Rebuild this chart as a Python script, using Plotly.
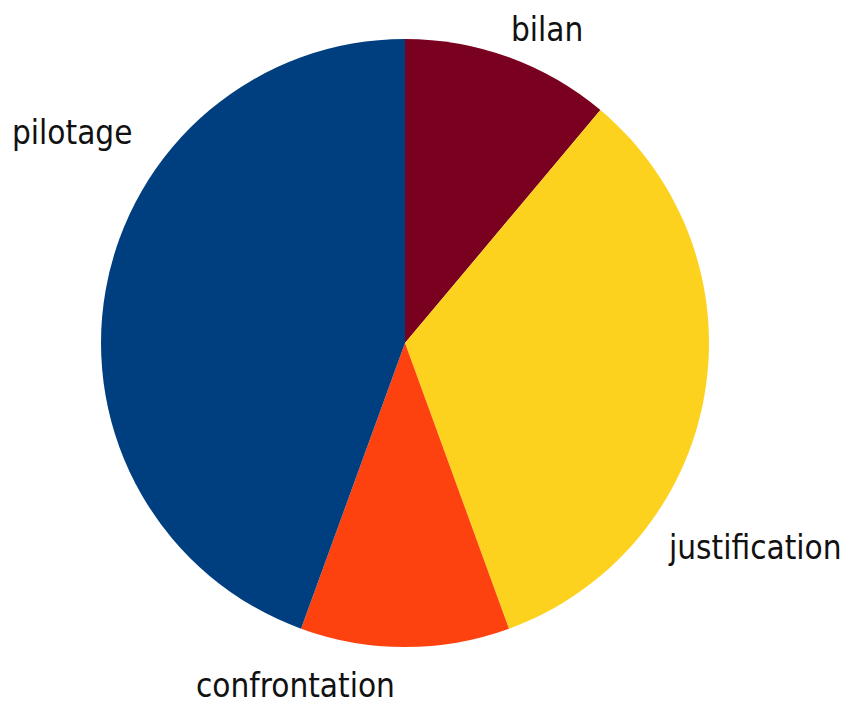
import plotly.graph_objects as go

labels = ["bilan", "justification", "confrontation", "pilotage"]
values = [10, 30, 10, 40]
colors = ["#7a0020", "#fdd21f", "#fe420f", "#003f7f"]

# label anchor positions (paper coords)
label_x = [0.633, 0.878, 0.338, 0.075]
label_y = [0.970, 0.236, 0.040, 0.824]

W, H = 851, 706
cx, cy, r = 397, 335, 304

fig = go.Figure(go.Pie(
    labels=labels,
    values=values,
    sort=False,
    direction="clockwise",
    rotation=0,
    marker=dict(colors=colors, line=dict(width=0)),
    textinfo="none",
    hoverinfo="label+percent",
    domain=dict(x=[(cx - r) / W, (cx + r) / W], y=[(H - cy - r) / H, (H - cy + r) / H]),
    showlegend=False,
))

for t, x, y in zip(labels, label_x, label_y):
    fig.add_annotation(text=t, x=x, y=y, xref="paper", yref="paper",
                       showarrow=False, xanchor="center", yanchor="middle",
                       font=dict(family="DejaVu Sans Condensed, Roboto, sans-serif", size=33, color="#111111"))

fig.update_layout(width=W, height=H, margin=dict(l=0, r=0, t=0, b=0),
                  paper_bgcolor="white", plot_bgcolor="white")

fig.write_html("out.html")
